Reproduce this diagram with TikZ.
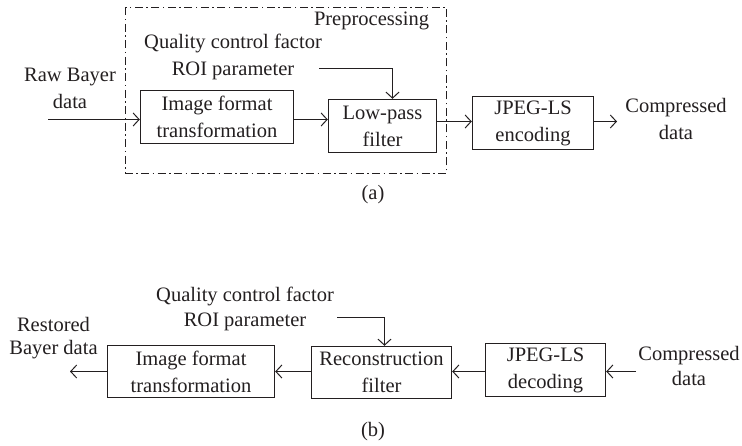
\documentclass[tikz,border=0pt]{standalone}
\usepackage{fontspec}
\setmainfont{Liberation Serif}
\usetikzlibrary{arrows.meta}
\definecolor{inkcolor}{RGB}{35,31,32}

\begin{document}
\begin{tikzpicture}[x=1pt, y=-1pt, >={Straight Barb[length=6pt,width=13pt]},
  font=\fontsize{20.5}{27}\selectfont, text=inkcolor,
  blockbox/.style={draw=inkcolor, line width=1.4pt, align=center, inner sep=0pt, minimum height=53pt},
  flow/.style={->, draw=inkcolor, line width=1pt},
  lbl/.style={align=center, inner sep=0pt}]
  \useasboundingbox (0,0) rectangle (742,446);

  % --- (a) compression ---
  \draw[inkcolor, line width=1pt, dash pattern=on 8pt off 3.5pt on 1.5pt off 3.5pt]
    (125.5,7.5) rectangle (446.5,173.5);
  \node[lbl] (prepA) at (371.5,21) {Preprocessing};
  \node[lbl] (qcfA) at (233,43) {Quality control factor};
  \node[lbl] (roiA) at (233,71) {ROI parameter};
  \node[lbl] (rawA) at (70,88) {Raw Bayer\\data};

  \node[blockbox, minimum width=153pt] (imgA) at (217,117) {Image format\\transformation};
  \node[blockbox, minimum width=108pt] (lpfA) at (382.5,126) {Low-pass\\filter};
  \node[blockbox, minimum width=121pt] (jpgA) at (533,123) {JPEG-LS\\encoding};
  \node[lbl] (cmpA) at (676,119) {Compressed\\data};

  \coordinate (inA) at (48,119.5);
  \coordinate (outA) at (617,121.5);
  \coordinate (roiEndA) at (319,68.5);
  \coordinate (kneeA) at (392.5,68.5);

  \draw[flow] (inA) -- (inA -| imgA.west);
  \draw[flow] (imgA.east |- inA) -- (lpfA.west |- inA);
  \draw[flow] (lpfA.east |- outA) -- (jpgA.west |- outA);
  \draw[flow] (jpgA.east |- outA) -- (outA);
  \draw[flow] (roiEndA) -- (kneeA) -- (kneeA |- lpfA.north);

  \node[lbl] (capA) at (373,195) {(a)};

  % --- (b) decompression ---
  \node[lbl] (qcfB) at (245,296) {Quality control factor};
  \node[lbl] (roiB) at (245,322) {ROI parameter};
  \node[lbl, font=\fontsize{20.5}{23}\selectfont] (restB) at (53.5,338) {Restored\\Bayer data};

  \node[blockbox, minimum width=167pt, minimum height=52pt] (imgB) at (191,371.5) {Image format\\transformation};
  \node[blockbox, minimum width=140pt, minimum height=52pt] (recB) at (381.5,372.5) {Reconstruction\\filter};
  \node[blockbox, minimum width=120pt] (jpgB) at (545.5,370) {JPEG-LS\\decoding};
  \node[lbl, font=\fontsize{20.5}{25}\selectfont] (cmpB) at (689,366) {Compressed\\data};

  \coordinate (inB) at (636,371.5);
  \coordinate (outB) at (70,371.5);
  \coordinate (roiEndB) at (337,317.5);
  \coordinate (kneeB) at (384.5,317.5);

  \draw[flow] (inB) -- (jpgB.east |- inB);
  \draw[flow] (jpgB.west |- inB) -- (recB.east |- inB);
  \draw[flow] (recB.west |- inB) -- (imgB.east |- inB);
  \draw[flow] (imgB.west |- inB) -- (outB);
  \draw[flow] (roiEndB) -- (kneeB) -- (kneeB |- recB.north);

  \node[lbl] (capB) at (373,432) {(b)};

\end{tikzpicture}
\end{document}
